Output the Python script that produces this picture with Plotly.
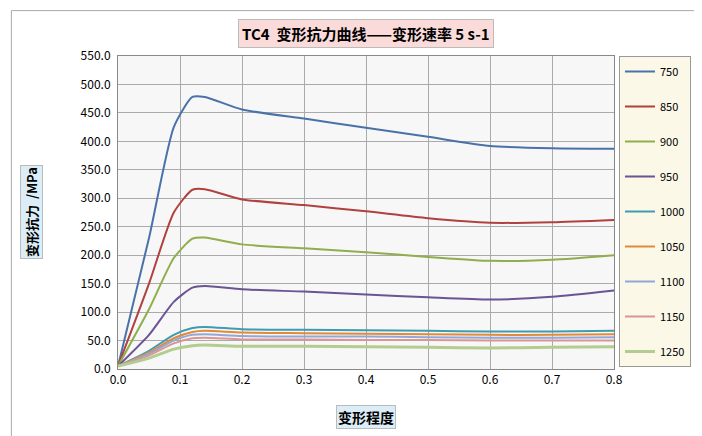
import plotly.graph_objects as go

strain = [0, 0.05, 0.09, 0.12, 0.14, 0.2, 0.3, 0.4, 0.5, 0.6, 0.7, 0.8]
names = ["750", "850", "900", "950", "1000", "1050", "1100", "1150", "1250"]
s750 = [5, 230, 425, 478, 478, 456, 440, 424, 408, 392, 388, 387]
s850 = [5, 150, 275, 315, 316, 298, 288, 277, 265, 257, 258, 262]
s900 = [5, 105, 195, 229, 231, 219, 212, 205, 197, 190, 192, 200]
s950 = [5, 60, 118, 143, 146, 140, 136, 131, 126, 122, 127, 138]
s1000 = [5, 32, 60, 72, 74, 70, 69, 68, 67, 66, 66, 67]
s1050 = [5, 29, 54, 65, 67, 64, 63, 62, 61, 60, 60, 61]
s1100 = [5, 27, 50, 60, 61, 58, 57, 57, 56, 55, 55, 56]
s1150 = [5, 24, 45, 54, 55, 52, 52, 51, 51, 50, 50, 50]
s1250 = [5, 19, 35, 41, 42, 40, 40, 39, 38, 37, 38, 39]
series = [s750, s850, s900, s950, s1000, s1050, s1100, s1150, s1250]
colors = ["#4a72a8", "#b0413e", "#8fae4c", "#6b5394", "#3e9cb0",
          "#e08a3a", "#93a7d6", "#d99694", "#b3cc8f"]

fig = go.Figure()
for n, y, c in zip(names, series, colors):
    fig.add_trace(go.Scatter(x=strain, y=y, name=n, mode="lines", legendgroup=n,
                             line=dict(color=c, width=3 if n == "1250" else 2, shape="spline", smoothing=0.6)))

font = "Noto Sans CJK SC"
fig.update_layout(
    width=702, height=436,
    margin=dict(l=110, r=96, t=48, b=75, autoexpand=False),
    paper_bgcolor="white", plot_bgcolor="#f7f7f7",
    font=dict(family=font, size=12, color="black"),
    showlegend=True,
    legend=dict(x=1.01, y=1.0, yanchor="top", xanchor="left", bgcolor="#fbf8e8",
                bordercolor="#999", borderwidth=1, tracegroupgap=16,
                font=dict(size=11)),
    annotations=[
        dict(text="<b>TC4  变形抗力曲线——变形速率 5 s-1</b>", x=0.5, y=1.0, xref="paper", yref="paper",
             yanchor="bottom", yshift=8, showarrow=False, bgcolor="#fbdada", bordercolor="#bbb",
             font=dict(size=15), borderpad=3),
        dict(text="<b>变形程度</b>", x=0.5, y=0, xref="paper", yref="paper", yanchor="top",
             yshift=-36, showarrow=False, bgcolor="#dbeef7", bordercolor="#bbb", font=dict(size=14)),
        dict(text="<b>变形抗力  /MPa</b>", x=0, y=0.5, xref="paper", yref="paper", xanchor="right",
             xshift=-75, textangle=-90, showarrow=False, bgcolor="#dbeef7", bordercolor="#bbb", font=dict(size=13)),
    ],
    shapes=[dict(type="rect", xref="paper", yref="paper", x0=-0.215, x1=1.186, y0=-0.225, y1=1.145,
                 line=dict(color="#aaa", width=1))],
)
fig.update_xaxes(range=[0, 0.8], dtick=0.1, tickformat=".1f", showgrid=True, gridcolor="#aaa",
                 zeroline=False, showline=True, linecolor="#888", mirror=True, ticks="")
fig.update_yaxes(range=[0, 550], dtick=50, tickformat=".1f", showgrid=True, gridcolor="#aaa",
                 zeroline=False, showline=True, linecolor="#888", mirror=True, ticks="outside",
                 ticklen=4, tickcolor="white")
fig.write_html("out.html")
